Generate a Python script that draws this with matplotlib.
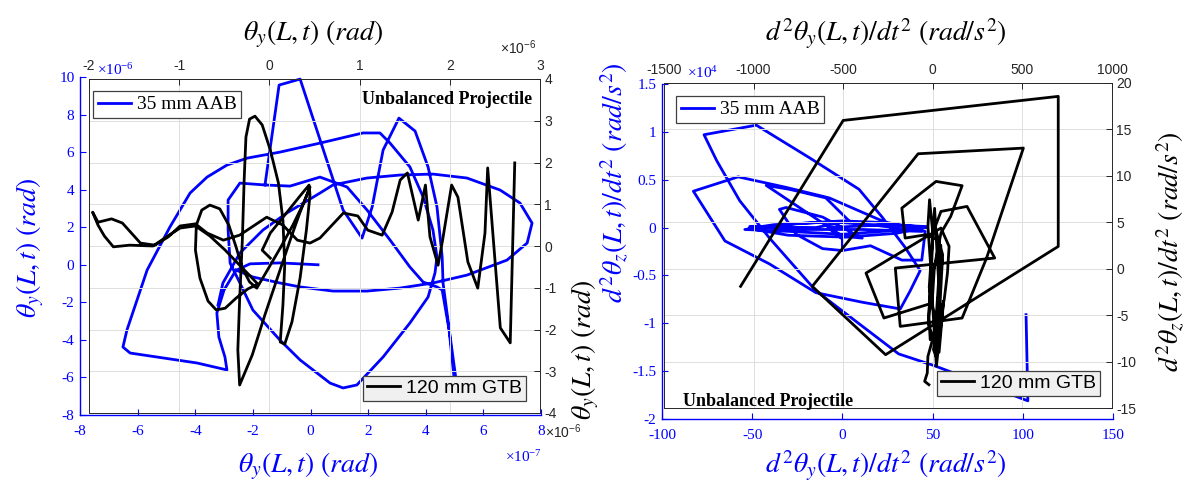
import numpy as np
import matplotlib.pyplot as plt
from matplotlib.ticker import FuncFormatter

plt.rcParams['mathtext.fontset'] = 'stix'
plt.rcParams['axes.unicode_minus'] = False

BLUE = '#0000ff'
W, H = 1197, 495

# ---------- left panel: theta_y vs theta_z ----------
# 35 mm AAB, x in 1e-7 rad, y in 1e-6 rad (three traced pieces)
aab_x1 = [0.26, -1.06, -2.10, -2.59, -3.00, -3.25, -3.18, -2.97, -2.90, -3.94, -5.12, -6.26, -6.51, -6.37,
          -5.67, -4.88, -4.18, -3.59, -2.90, -2.20, -1.06, 0.33, 1.82, 2.41, 2.76, 3.45, 3.91, 4.25, 4.39,
          4.32, 4.08, 3.45, 2.52, 1.61, 1.13, 0.68, -0.36, -1.06, -2.00, -2.45, -2.79, -2.86, -2.86, -2.45,
          -1.58, -0.71, 0.33, 1.27, 1.96, 2.76, 3.45, 3.91, 4.39, 4.57, 4.81, 5.02]
aab_y1 = [0.0, 0.1, 0.05, -0.3, -1.34, -2.57, -3.85, -4.91, -5.60, -5.23, -4.96, -4.70, -4.38, -3.47,
          -0.28, 2.01, 3.82, 4.67, 5.31, 5.68, 6.00, 6.48, 7.02, 7.02, 6.48, 5.21, 3.61, 1.85, 0.41,
          -0.44, -1.72, -3.10, -4.91, -6.40, -6.56, -6.30, -5.07, -4.01, -2.41, -0.97, 0.09, 1.85, 3.45, 4.35,
          4.25, 4.19, 4.67, 4.14, 2.92, 1.32, -0.12, -0.92, -1.18, -1.34, -3.47, -6.56]
aab_x2 = [-1.58, -1.09, -0.36, 1.13, 1.79, 2.14, 2.52, 3.07, 3.63, 4.08, 4.39, 4.57, 4.60, 4.84, 5.09]
aab_y2 = [4.25, 9.57, 9.89, 2.92, 1.42, 3.08, 6.11, 7.81, 7.12, 5.21, 3.08, 0.41, -0.97, -3.74, -6.56]
aab_x3 = [-2.59, -2.00, -1.06, -0.36, 0.78, 1.96, 3.11, 4.25, 5.43, 6.82, 7.52, 7.69, 7.27, 6.58, 5.43,
          4.25, 3.11, 1.96, 0.78, 0.33, -0.82, -1.65, -2.45, -3.04, -3.21]
aab_y3 = [-0.28, -0.65, -0.97, -1.18, -1.40, -1.40, -1.24, -0.97, -0.55, 0.25, 1.16, 2.22, 3.29, 3.98, 4.62,
          4.83, 4.78, 4.62, 4.25, 3.82, 2.76, 1.85, 0.63, -0.97, -2.14]

# 120 mm GTB, x and y in 1e-6 rad
gtb_x = [0.01, -0.08, 0.01, 0.17, 0.34, 0.44, 0.45, 0.41, 0.34, 0.25, 0.17, 0.12, 0.15, 0.17, 0.15, 0.10,
         0.01, -0.08, -0.16, -0.22, -0.26, -0.28, -0.30, -0.33, -0.35, -0.33, -0.19, -0.05, 0.10, 0.23, 0.34,
         0.45, 0.38, 0.26, 0.12, -0.02, -0.14, -0.22, -0.30, -0.37, -0.45, -0.55, -0.66, -0.75, -0.81, -0.82,
         -0.77, -0.68, -0.59, -0.49, -0.37, -0.24, -0.13, -0.19, -0.33, -0.49, -0.66, -0.82, -0.99, -1.14,
         -1.29, -1.55, -1.73, -1.83, -1.90, -1.96, -1.90, -1.75, -1.63, -1.43, -1.27, -1.12, -0.99, -0.82,
         -0.69, -0.51, -0.33, -0.03, 0.15, 0.31, 0.45, 0.56, 0.82, 0.98, 1.09, 1.25, 1.36, 1.45, 1.53, 1.65,
         1.73, 1.78, 1.87, 1.92, 2.02, 2.09, 2.20, 2.31, 2.39, 2.42, 2.56, 2.67, 2.72]
gtb_y = [-0.29, -0.10, 0.31, 0.74, 1.20, 1.46, 1.22, 0.38, -0.77, -1.82, -2.35, -2.30, -1.41, -0.46, 0.62,
         1.51, 2.30, 2.90, 3.11, 3.04, 2.61, 1.58, 0.14, -1.29, -2.49, -3.33, -2.61, -1.65, -0.69, 0.14, 0.81,
         1.41, 1.03, 0.50, -0.05, -0.57, -1.01, -0.86, -0.53, -0.02, 0.50, 0.89, 0.98, 0.86, 0.50, -0.10,
         -0.77, -1.32, -1.53, -1.49, -1.25, -1.03, -0.91, -0.77, -0.46, -0.10, 0.24, 0.48, 0.43, 0.22,
         0.0, 0.02, -0.02, 0.24, 0.50, 0.81, 0.57, 0.65, 0.55, 0.07, 0.02, 0.22, 0.48, 0.53,
         0.31, 0.14, 0.26, 0.69, 0.50, 0.14, 0.07, 0.19, 0.79, 0.72, 0.38, 0.26, 0.81, 1.58, 1.75, 0.62,
         1.46, 0.22, -0.46, 0.14, 1.46, 1.17, -0.38, -1.01, 0.31, 1.87, -1.96, -2.32, 1.99]

# ---------- right panel: angular accelerations ----------
# 35 mm AAB: x in rad/s^2, y in 1e4 rad/s^2
acc_aab_x = [101.8, 102.8, 50.5, 31.2, 11.0, -14.7, -40.4, -56.9, -69.7, -76.7, -47.7, -18.3, 9.2, 22.0,
             34.9, 43.1, 37.6, 32.1, 11.0, -14.7, -40.4, -65.1, -82.6, -57.8, -31.2, -7.3, 11.0, 25.7,
             46.8, 22.0, 0.0, -29.4, -54.1, -25.7, 0.0, 25.7, 45.9, 44.0, 33.0, 15.6, 0.0, -11.0, -25.7,
             -34.9, -31.2, -11.0, 11.0, 0.0, -42.2, -29.4, -9.2, 3.7, -14.7, -51.4, -22.0, 11.0, 44.0,
             20.0, -5.0, -38.0, -52.0, -30.0, 2.0, 30.0, 47.0, 25.0, -8.0, 0.0, 0.0]
acc_aab_y = [-0.91, -1.81, -1.44, -1.32, -1.03, -0.66, -0.11, 0.28, 0.70, 0.97, 1.07, 0.73, 0.40, 0.11,
             -0.21, -0.45, -0.66, -0.85, -0.78, -0.68, -0.38, -0.14, 0.38, 0.53, 0.42, 0.31, 0.16, 0.04,
             0.0, -0.04, -0.07, -0.04, -0.02, 0.04, 0.07, 0.05, -0.04, -0.34, -0.34, -0.19, -0.24, -0.22,
             -0.07, 0.19, 0.21, 0.11, -0.11, -0.09, 0.44, 0.40, 0.31, 0.07, 0.0, 0.01, -0.02, -0.02, -0.04,
             0.02, 0.06, 0.03, -0.01, -0.08, -0.10, -0.06, 0.01, 0.03, 0.0, -0.12, -0.22]
# 120 mm GTB: x and y in rad/s^2
acc_gtb_x = [-1072.6, -500.0, 700.0, 700.0, -263.6, -672.7, -81.8, 505.4, 300.0, 163.6, -181.8, -209.1,
             345.5, 190.9, 45.5, 0.0, -18.2, -27.3, -9.1, -21.8, -14.5, 14.5, 32.7, 50.9, 27.3, -36.4,
             -154.5, -172.7, 18.2, 163.6, 100.0, 45.5, 9.1, -3.6, -272.7, -372.7, 45.5, 90.9, 81.8, 63.6,
             27.3, 3.6, 18.2, 40.0, 10.0, -20.0, 30.0, 55.0, 5.0, -25.0, 35.0, 60.0, 20.0, -10.0, 45.0,
             15.0, -27.3, -30.9, -45.5, -21.8]
acc_gtb_y = [-1.90, 15.97, 18.56, 2.40, -9.26, -1.90, 12.38, 12.99, 1.15, -5.31, -6.21, 0.07, 1.15, 6.71,
             6.17, 3.84, 7.43, 4.56, -0.47, -5.13, -7.65, -6.93, -2.62, 0.97, 3.12, 3.66, 3.30, 6.53, 9.40,
             8.94, 5.64, 3.84, 0.25, -3.70, -5.31, -0.47, 4.38, 2.40, -0.47, -3.34, -5.85, -8.72, -9.44,
             -4.0, 6.5, -2.0, -7.5, 1.5, 5.0, -6.0, -9.0, -3.5, -10.5, -1.0, 2.5, -6.5, -9.44,
             -11.23, -12.13, -12.49]


def box(l, t, r, b):
    # pixel box -> figure fraction rect
    return [l / W, 1 - b / H, (r - l) / W, (b - t) / H]


def fig_pt(x, y):
    return x / W, 1 - y / H


def style_blue(ax, pad_x, pad_y):
    for s in ('top', 'right'):
        ax.spines[s].set_visible(False)
    for s in ('left', 'bottom'):
        ax.spines[s].set_color(BLUE)
        ax.spines[s].set_linewidth(1.0)
    ax.tick_params(direction='in', colors=BLUE, length=4, width=0.8, labelsize=11,
                   labelfontfamily='Liberation Serif')
    ax.tick_params(axis='x', pad=pad_x)
    ax.tick_params(axis='y', pad=pad_y)


def style_black(ax, pad_x, pad_y):
    ax.set_facecolor('none')
    ax.xaxis.tick_top()
    ax.yaxis.tick_right()
    for s in ax.spines.values():
        s.set_color('#262626')
        s.set_linewidth(0.7)
    ax.tick_params(direction='in', colors='#262626', length=4, width=0.7, labelsize=10,
                   labelfontfamily='Liberation Sans')
    ax.tick_params(axis='x', pad=pad_x)
    ax.tick_params(axis='y', pad=pad_y)
    ax.grid(True, color='#dedede', lw=0.7)


def add_legends(ax, h_blue, h_black, blue_ul, black_lr):
    leg1 = ax.legend([h_blue], ['35 mm AAB'], loc='upper left',
                     bbox_to_anchor=fig_pt(*blue_ul), bbox_transform=fig.transFigure,
                     prop={'family': 'Liberation Serif', 'size': 14}, fancybox=False,
                     edgecolor='#404040', framealpha=1, borderaxespad=0, handlelength=1.7,
                     handletextpad=0.3, borderpad=0.25)
    leg1.get_frame().set_linewidth(0.9)
    ax.add_artist(leg1)
    leg2 = ax.legend([h_black], ['120 mm GTB'], loc='lower right',
                     bbox_to_anchor=fig_pt(*black_lr), bbox_transform=fig.transFigure,
                     prop={'family': 'Liberation Sans', 'size': 14}, fancybox=False,
                     edgecolor='#404040', facecolor='#f0f0f0', framealpha=1, borderaxespad=0,
                     handlelength=1.7, handletextpad=0.3, borderpad=0.2)
    leg2.get_frame().set_linewidth(0.9)


fmt_g = FuncFormatter(lambda v, p: '%g' % v)

fig = plt.figure(figsize=(W / 100, H / 100), dpi=100)

# ---- left panel ----
ax1 = fig.add_axes(box(80, 77, 541, 415))
nan = [np.nan]
l1, = ax1.plot(aab_x1 + nan + aab_x2 + nan + aab_x3, aab_y1 + nan + aab_y2 + nan + aab_y3,
               color=BLUE, lw=2.0)
ax1.set_xlim(-8, 8)
ax1.set_ylim(-8, 10)
ax1.set_xticks(np.arange(-8, 9, 2))
ax1.set_yticks(np.arange(-8, 11, 2))
style_blue(ax1, 7, 4)

ax2 = fig.add_axes(box(89, 79, 540, 413))
l2, = ax2.plot(gtb_x, gtb_y, color='black', lw=2.0)
ax2.set_xlim(-2, 3)
ax2.set_ylim(-4, 4)
ax2.set_xticks(np.arange(-2, 4, 1))
ax2.set_yticks(np.arange(-4, 5, 1))
style_black(ax2, 4, 3)
add_legends(ax2, l1, l2, (93, 91), (526, 401))

# ---- right panel ----
ax3 = fig.add_axes(box(662, 84, 1113, 419))
l3, = ax3.plot(acc_aab_x, acc_aab_y, color=BLUE, lw=2.0)
ax3.set_xlim(-100, 150)
ax3.set_ylim(-2, 1.5)
ax3.set_xticks(np.arange(-100, 151, 50))
ax3.set_yticks(np.arange(-2, 1.51, 0.5))
ax3.yaxis.set_major_formatter(fmt_g)
style_blue(ax3, 7, 4)

ax4 = fig.add_axes(box(664, 83, 1112, 408))
l4, = ax4.plot(acc_gtb_x, acc_gtb_y, color='black', lw=2.0)
ax4.set_xlim(-1500, 1000)
ax4.set_ylim(-15, 20)
ax4.set_xticks(np.arange(-1500, 1001, 500))
ax4.set_yticks(np.arange(-15, 21, 5))
style_black(ax4, 4, 3)
add_legends(ax4, l3, l4, (676, 96), (1100, 396))

# ---- axis titles ----
lab_th = r'$\theta_y(L,t)\ (rad)$'
lab_acc_y = r'$d^2\theta_y(L,t)/dt^2\ (rad/s^2)$'
lab_acc_z = r'$d^2\theta_z(L,t)/dt^2\ (rad/s^2)$'
fig.text(*fig_pt(313, 34), lab_th, fontsize=20, color='black', ha='center', va='center')
fig.text(*fig_pt(308, 466), lab_th, fontsize=20, color=BLUE, ha='center', va='center')
fig.text(*fig_pt(30, 248), lab_th, fontsize=20, color=BLUE, ha='center', va='center', rotation=90)
fig.text(*fig_pt(585, 350), lab_th, fontsize=20, color='black', ha='center', va='center', rotation=90)
fig.text(*fig_pt(886, 34), lab_acc_y, fontsize=20, color='black', ha='center', va='center')
fig.text(*fig_pt(886, 466), lab_acc_y, fontsize=20, color=BLUE, ha='center', va='center')
fig.text(*fig_pt(614, 183), lab_acc_z, fontsize=20, color=BLUE, ha='center', va='center', rotation=90)
fig.text(*fig_pt(1170, 252), lab_acc_z, fontsize=20, color='black', ha='center', va='center', rotation=90)

# ---- exponent labels ----
fig.text(*fig_pt(97, 70), r'$\mathregular{\times10^{-6}}$', fontsize=11, color=BLUE,
         family='Liberation Serif', va='center')
fig.text(*fig_pt(500, 48), r'$\mathregular{\times10^{-6}}$', fontsize=10, color='#262626',
         family='Liberation Sans', va='center')
fig.text(*fig_pt(545, 432), r'$\mathregular{\times10^{-6}}$', fontsize=10, color='#262626',
         family='Liberation Sans', va='center')
fig.text(*fig_pt(505, 457), r'$\mathregular{\times10^{-7}}$', fontsize=11, color=BLUE,
         family='Liberation Serif', va='center')
fig.text(*fig_pt(687, 73), r'$\mathregular{\times10^{4}}$', fontsize=11, color=BLUE,
         family='Liberation Serif', va='center')

# ---- annotations ----
fig.text(*fig_pt(532, 99), 'Unbalanced Projectile', fontsize=13, fontweight='bold',
         family='Liberation Serif', ha='right', va='center')
fig.text(*fig_pt(683, 402), 'Unbalanced Projectile', fontsize=13, fontweight='bold',
         family='Liberation Serif', ha='left', va='center')

fig.savefig('out.png', dpi=100)
